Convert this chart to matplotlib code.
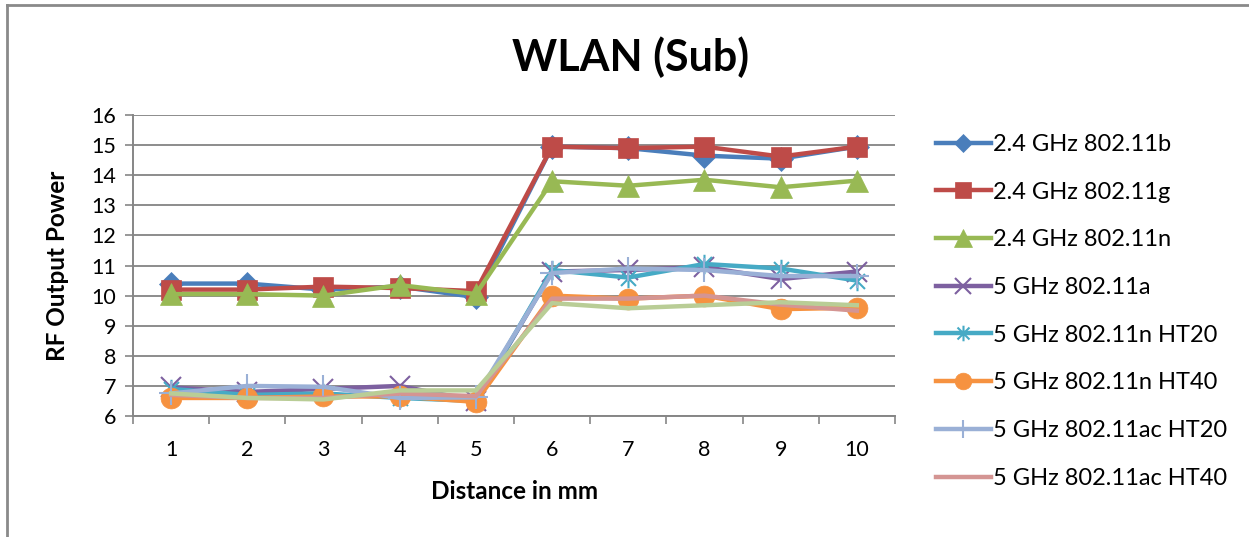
import matplotlib
matplotlib.use("Agg")
import matplotlib.pyplot as plt
from matplotlib.path import Path
from matplotlib.lines import Line2D
import numpy as np

plt.rcParams['font.family'] = ['Lato', 'DejaVu Sans']

distance = [1, 2, 3, 4, 5, 6, 7, 8, 9, 10]
labels = ["2.4 GHz 802.11b", "2.4 GHz 802.11g", "2.4 GHz 802.11n", "5 GHz 802.11a",
          "5 GHz 802.11n HT20", "5 GHz 802.11n HT40", "5 GHz 802.11ac HT20",
          "5 GHz 802.11ac HT40", "_series9"]

wlan_b = [10.4, 10.4, 10.2, 10.3, 9.95, 14.95, 14.9, 14.65, 14.55, 14.95]
wlan_g = [10.2, 10.2, 10.3, 10.25, 10.15, 14.95, 14.9, 14.95, 14.62, 14.95]
wlan_n = [10.05, 10.05, 10.0, 10.35, 10.05, 13.8, 13.65, 13.85, 13.6, 13.82]
wlan_a5 = [6.95, 6.8, 6.9, 7.0, 6.5, 10.8, 10.85, 10.95, 10.55, 10.8]
wlan_n_ht20 = [6.9, 6.7, 6.75, 6.6, 6.5, 10.85, 10.6, 11.05, 10.9, 10.5]
wlan_n_ht40 = [6.6, 6.6, 6.65, 6.65, 6.47, 10.0, 9.9, 10.0, 9.55, 9.6]
wlan_ac_ht20 = [6.75, 7.0, 6.97, 6.6, 6.62, 10.75, 10.9, 10.85, 10.65, 10.65]
wlan_ac_ht40 = [6.7, 6.6, 6.6, 6.75, 6.66, 9.9, 9.9, 10.0, 9.7, 9.5]
wlan_series9 = [6.75, 6.6, 6.55, 6.85, 6.85, 9.75, 9.58, 9.68, 9.78, 9.68]

series = [wlan_b, wlan_g, wlan_n, wlan_a5, wlan_n_ht20, wlan_n_ht40,
          wlan_ac_ht20, wlan_ac_ht40, wlan_series9]
colors = ["#4A7EBB", "#BE4B48", "#98B954", "#7D60A0", "#46AAC5", "#F69240",
          "#9AB0D6", "#D49593", "#B9CD96"]

# Excel-style star: X plus vertical bar
star_verts = [(0, 0), (1, 1), (0, 0), (-1, 1), (0, 0), (1, -1), (0, 0), (-1, -1),
              (0, 0), (0, 1.3), (0, 0), (0, -1.3)]
star_codes = [Path.MOVETO, Path.LINETO] * 6
star = Path(star_verts, star_codes)

markers = ["D", "s", "^", "x", star, "o", "+", None, None]
msizes = [12, 15, 16, 14, 14, 15, 17, 0, 0]

fig = plt.figure(figsize=(12.49, 5.37), dpi=100)
ax = fig.add_axes([0.1065, 0.2253, 0.61, 0.5605])

for vals, lab, col, mk, ms in zip(series, labels, colors, markers, msizes):
    filled = mk in ("D", "s", "^", "o")
    ax.plot(distance, vals, color=col, lw=3.2, marker=mk, markersize=ms,
            markerfacecolor=col, markeredgecolor=col,
            markeredgewidth=1.5 if not filled else 0.5, label=lab,
            solid_joinstyle='round')

ax.set_xlim(0.5, 10.5)
ax.set_ylim(6, 16)
ax.set_yticks(np.arange(6, 17, 1))
ax.set_xticks(distance)
ax.set_xticks(np.arange(0.5, 11, 1), minor=True)
ax.tick_params(axis='x', which='major', length=0, labelsize=15.5, pad=17)
ax.tick_params(axis='x', which='minor', length=6, width=1.2, color='#868686', direction='out')
ax.tick_params(axis='y', length=6, width=1.2, color='#868686', labelsize=15.5, pad=6)
ax.grid(axis='y', color='#8C8C8C', lw=1.4)
ax.set_axisbelow(True)
for s in ('top', 'right'):
    ax.spines[s].set_visible(False)
for s in ('left', 'bottom'):
    ax.spines[s].set_color('#868686')
    ax.spines[s].set_linewidth(1.4)

fig.text(0.505, 0.893, "WLAN (Sub)", ha='center', va='center', fontsize=31, fontweight='bold')
fig.text(0.412, 0.084, "Distance in mm", ha='center', va='center', fontsize=17.5, fontweight='bold')
fig.text(0.046, 0.505, "RF Output Power", ha='center', va='center', fontsize=17.5,
         fontweight='bold', rotation=90)

handles, labs = ax.get_legend_handles_labels()
leg_handles = []
for h, col, mk in zip(handles[:8], colors, markers):
    leg_handles.append(Line2D([], [], color=col, lw=3.2, marker=mk,
                              markersize=h.get_markersize() * 0.8,
                              markerfacecolor=col, markeredgecolor=col,
                              markeredgewidth=h.get_markeredgewidth()))
fig.legend(leg_handles, labs[:8], loc='upper left', bbox_to_anchor=(0.742, 0.768),
           frameon=False, fontsize=17, handlelength=2.3, handletextpad=0.1,
           labelspacing=1.13, borderaxespad=0)

# chart border (top and left edges visible)
fig.add_artist(Line2D([0.0055, 0.0055], [0, 0.991], transform=fig.transFigure,
                      color='#8A8A8A', lw=2))
fig.add_artist(Line2D([0.0055, 1.0], [0.991, 0.991], transform=fig.transFigure,
                      color='#8A8A8A', lw=2))

fig.savefig("out.png", dpi=100)
